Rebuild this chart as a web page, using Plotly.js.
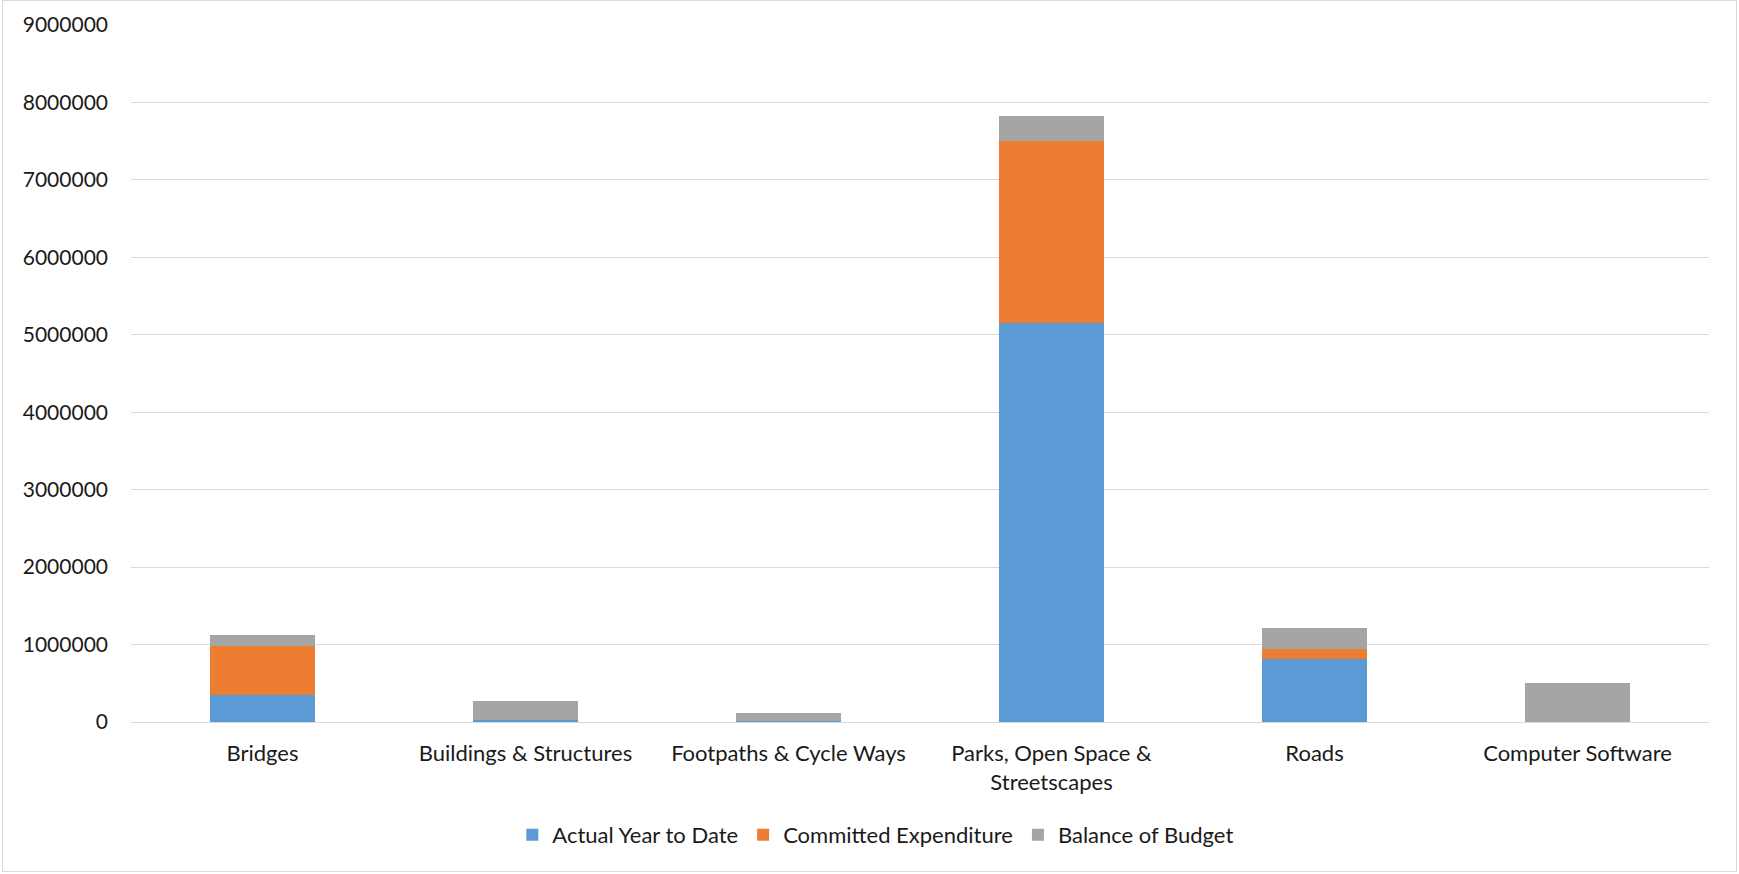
<!DOCTYPE html>
<html>
<head>
<meta charset="utf-8">
<script src="https://cdn.plot.ly/plotly-3.0.1.min.js"></script>
<style>
html,body{margin:0;padding:0;background:#fff;}
#wrap{position:absolute;left:2px;top:0;width:1735px;height:872px;border:1px solid #d9d9d9;box-sizing:border-box;}
#chart{position:absolute;left:0;top:0;width:1739px;height:874px;}
</style>
</head>
<body>
<div id="wrap"></div>
<div id="chart"></div>
<script>
const categories = ["Bridges", "Buildings & Structures", "Footpaths & Cycle Ways", "Parks, Open Space &<br>Streetscapes", "Roads", "Computer Software"];
const actualYearToDate = [345000, 20000, 8000, 5147000, 814000, 0];
const committedExpenditure = [642000, 5000, 2000, 2360000, 125000, 0];
const balanceOfBudget = [137000, 245000, 106000, 319000, 281000, 500000];
const yTickValues = [0, 1000000, 2000000, 3000000, 4000000, 5000000, 6000000, 7000000, 8000000, 9000000];

const fam = "Lato, 'Open Sans', sans-serif";
const tickFont = {family: fam, size: 21, color: "#1a1a1a"};
const legendFont = {family: fam, size: 22, color: "#1a1a1a"};

const traces = [
  {type: "bar", name: "Actual Year to Date", x: categories, y: actualYearToDate, marker: {color: "#5b9bd5"}},
  {type: "bar", name: "Committed Expenditure", x: categories, y: committedExpenditure, marker: {color: "#ed7d31"}},
  {type: "bar", name: "Balance of Budget", x: categories, y: balanceOfBudget, marker: {color: "#a5a5a5"}}
];

const layout = {
  width: 1739, height: 874,
  barmode: "stack",
  bargap: 0.6,
  paper_bgcolor: "rgba(0,0,0,0)",
  plot_bgcolor: "rgba(0,0,0,0)",
  font: tickFont,
  margin: {l: 131, r: 30, t: 25, b: 152},
  showlegend: true,
  legend: {orientation: "h", x: 0.472, xanchor: "center", y: -0.162, yanchor: "middle", font: legendFont, traceorder: "normal", itemwidth: 30},
  xaxis: {type: "category", showgrid: false, showline: true, linecolor: "#d9d9d9", linewidth: 1, ticks: "", tickfont: legendFont, ticklabelstandoff: 12, automargin: false},
  yaxis: {range: [0, 9000000], tickvals: yTickValues, ticktext: yTickValues.map(v => String(v)), showgrid: true, gridcolor: "#d9d9d9", gridwidth: 1, zeroline: false, showline: false, ticks: "", tickfont: tickFont, ticklabelstandoff: 22, automargin: false}
};

Plotly.newPlot("chart", traces, layout, {displayModeBar: false, staticPlot: true});
</script>
</body>
</html>
